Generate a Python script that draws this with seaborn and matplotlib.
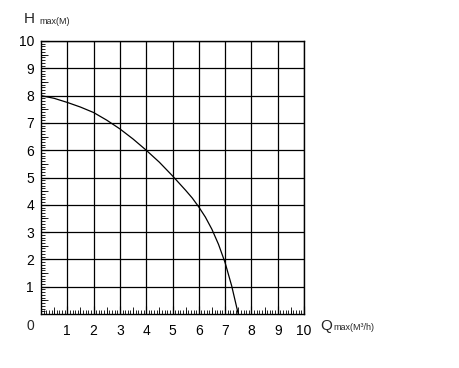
import numpy as np
import matplotlib
matplotlib.use("Agg")
import matplotlib.pyplot as plt
import seaborn as sns
from matplotlib.ticker import MultipleLocator, FixedLocator

# pump curve
flow = [0, 0.5, 1, 1.5, 2, 2.5, 3, 3.5, 4, 4.5, 5, 5.5, 5.75, 6, 6.25, 6.5, 6.75, 7, 7.25, 7.5]
head = [8, 7.9, 7.75, 7.58, 7.38, 7.1, 6.78, 6.41, 6.0, 5.56, 5.06, 4.53, 4.25, 3.92, 3.55, 3.1, 2.55, 1.88, 1.03, 0]
ticks = list(range(1, 11))

sns.set_style("white")
plt.rcParams['font.family'] = ['Liberation Sans', 'DejaVu Sans']

fig = plt.figure(figsize=(4.6, 3.68), dpi=100)
ax = fig.add_axes([41/460, 1 - 314/368, 263/460, 273/368])

sns.lineplot(x=flow, y=head, ax=ax, color='black', lw=0.9)

ax.set_xlim(0, 10)
ax.set_ylim(0, 10)
ax.xaxis.set_major_locator(FixedLocator(ticks))
ax.yaxis.set_major_locator(FixedLocator(ticks))
ax.xaxis.set_minor_locator(MultipleLocator(0.1))
ax.yaxis.set_minor_locator(MultipleLocator(0.1))
ax.tick_params(which='major', direction='in', length=6, width=0.8, labelsize=10,
               color='black', labelcolor='black', bottom=True, left=True)
ax.tick_params(axis='x', which='major', pad=7)
ax.tick_params(axis='y', which='major', pad=5)
ax.tick_params(which='minor', direction='in', length=3, width=0.6,
               color='black', bottom=True, left=True)
ax.grid(True, which='major', color='black', lw=0.9)
for s in ax.spines.values():
    s.set_color('black')
    s.set_linewidth(1.0)

# longer half ticks
for name in ('bottom', 'left'):
    sec = ax.secondary_xaxis('bottom') if name == 'bottom' else ax.secondary_yaxis('left')
    axis = sec.xaxis if name == 'bottom' else sec.yaxis
    axis.set_major_locator(FixedLocator([k + 0.5 for k in range(10)]))
    sec.tick_params(direction='in', length=5, width=0.6, labelbottom=False,
                    labelleft=False, color='black')
    sec.spines[name].set_visible(False)

ax.set_xlabel('')
ax.set_ylabel('')

fig.text(30/460, 1 - 326/368, '0', fontsize=10, ha='center', va='center')
fig.text(29/460, 1 - 19/368, 'H', fontsize=11, ha='center', va='center')
fig.text(39/460, 1 - 21/368, 'max(M)', fontsize=6.5, ha='left', va='center')
fig.text(320/460, 1 - 326/368, 'Q', fontsize=11, ha='left', va='center')
fig.text(333/460, 1 - 327/368, 'max(M³/h)', fontsize=6.5, ha='left', va='center')

fig.savefig('out.png', dpi=100)
